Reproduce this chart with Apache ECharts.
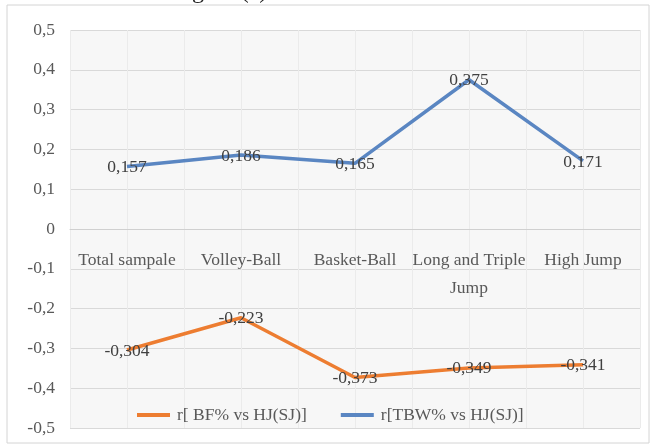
<!DOCTYPE html>
<html>
<head>
<meta charset="utf-8">
<script src="https://cdn.jsdelivr.net/npm/echarts@6/dist/echarts.min.js"></script>
<style>
  html, body { margin: 0; padding: 0; background: #fff; }
  #chart { width: 652px; height: 446px; }
</style>
</head>
<body>
<div id="chart"></div>
<script>
// data
const categories = ['Total sampale', 'Volley-Ball', 'Basket-Ball', 'Long and Triple\nJump', 'High Jump'];
const bfValues = [-0.304, -0.223, -0.373, -0.349, -0.341];
const tbwValues = [0.157, 0.186, 0.165, 0.375, 0.171];
const seriesNames = ['r[ BF% vs HJ(SJ)]', 'r[TBW% vs HJ(SJ)]'];
const yMin = -0.5, yMax = 0.5, yStep = 0.1;

const font = 'Liberation Serif';
const fs = 17.5;
const comma = v => String(v).replace('.', ',');

let chart = echarts.init(document.getElementById('chart'));

function lineLabel() {
    return {
        show: true,
        position: 'top',
        distance: 0,
        offset: [0, 10],
        fontFamily: font, fontSize: fs, color: '#404040',
        formatter: p => comma(p.value)
    };
}

const plotBox = { left: 70, right: 12, top: 30, bottom: 18, outerBoundsMode: 'none', containLabel: false };
// the category axis sits on the zero line
const plotHeight = 446 - plotBox.top - plotBox.bottom;
const zeroShift = -plotHeight * (0 - yMin) / (yMax - yMin);

chart.setOption({
    backgroundColor: '#fff',
    animation: false,
    graphic: [
        {
            type: 'rect',
            shape: { x: 7, y: 5, width: 642, height: 438 },
            style: { fill: 'none', stroke: '#d4d4d4', lineWidth: 1 }
        },
        {
            type: 'text',
            x: 172,
            y: -20,
            style: { text: 'Figure (c)', font: '24px ' + font, fill: '#222' }
        }
    ],
    legend: {
        top: 401,
        left: 132,
        itemWidth: 33,
        itemHeight: 4,
        itemGap: 34,
        icon: 'rect',
        textStyle: { fontFamily: font, fontSize: fs, color: '#595959', padding: [0, 0, 0, 2] },
        data: seriesNames
    },
    grid: [
        Object.assign({ show: true, backgroundColor: '#f7f7f7', borderWidth: 0 }, plotBox),
        // second grid only for the finer vertical lines
        Object.assign({ show: false }, plotBox)
    ],
    xAxis: [
        {
            type: 'category',
            gridIndex: 0,
            data: categories,
            position: 'bottom',
            offset: zeroShift,
            axisLine: { onZero: false, lineStyle: { color: '#d0d0d0' } },
            axisTick: { show: false },
            axisLabel: {
                fontFamily: font, fontSize: fs, color: '#595959',
                margin: 17, lineHeight: 28, interval: 0
            },
            splitLine: { show: false }
        },
        {
            type: 'value',
            gridIndex: 1,
            min: 0, max: 10, interval: 1,
            axisLine: { show: false },
            axisTick: { show: false },
            axisLabel: { show: false },
            splitLine: { show: true, lineStyle: { color: '#ebebeb' } }
        }
    ],
    yAxis: [
        {
            type: 'value',
            gridIndex: 0,
            min: yMin,
            max: yMax,
            interval: yStep,
            axisLine: { show: false },
            axisTick: { show: false },
            axisLabel: {
                fontFamily: font, fontSize: fs, color: '#595959', margin: 15,
                formatter: v => comma(Math.round(v * 10) / 10)
            },
            splitLine: { lineStyle: { color: '#d9d9d9' } }
        },
        {
            type: 'value',
            gridIndex: 1,
            min: 0, max: 1,
            show: false
        }
    ],
    series: [
        {
            name: seriesNames[0],
            type: 'line',
            data: bfValues,
            symbol: 'circle',
            symbolSize: 0,
            color: '#ED7D31',
            lineStyle: { width: 3.5, color: '#ED7D31' },
            label: lineLabel()
        },
        {
            name: seriesNames[1],
            type: 'line',
            data: tbwValues,
            symbol: 'circle',
            symbolSize: 0,
            color: '#5A86C2',
            lineStyle: { width: 3.5, color: '#5A86C2' },
            label: lineLabel()
        }
    ]
});
</script>
</body>
</html>
